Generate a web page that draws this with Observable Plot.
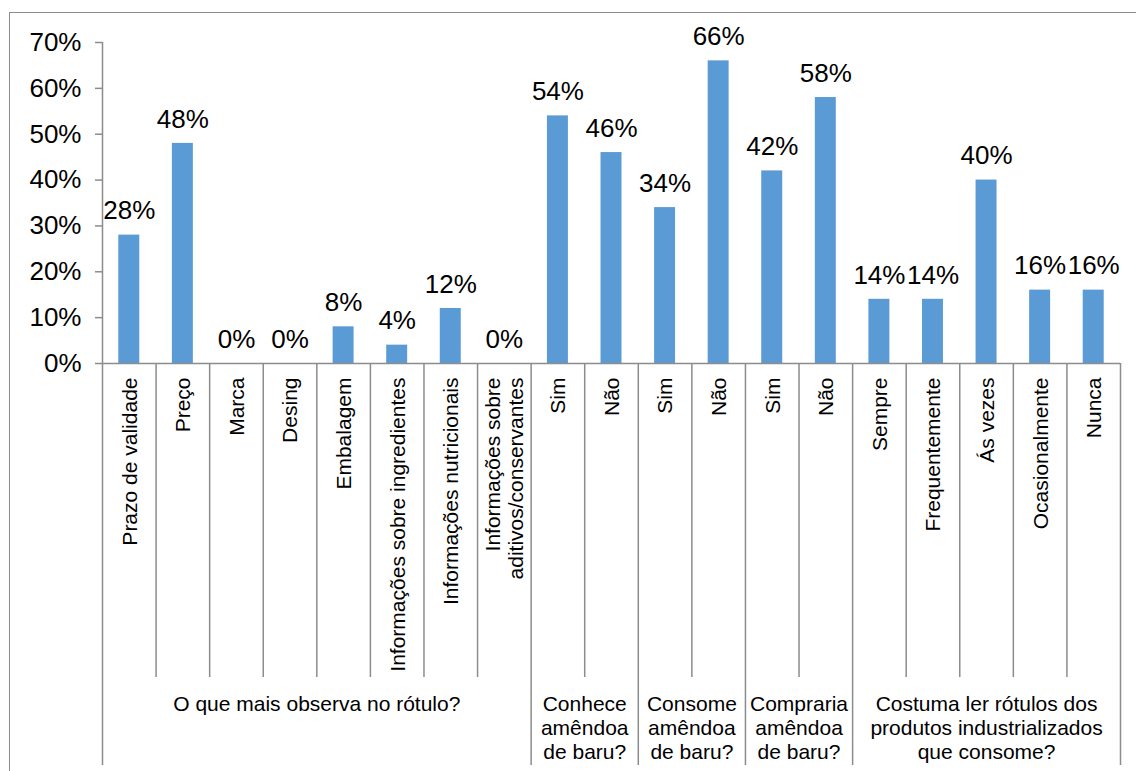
<!DOCTYPE html>
<html><head><meta charset="utf-8">
<script src="https://cdn.jsdelivr.net/npm/d3@7"></script>
<script src="https://cdn.jsdelivr.net/npm/@observablehq/plot@0.6"></script>
<style>
body{margin:0;background:#fff;font-family:"Liberation Sans",Arial,sans-serif;}
#wrap{position:relative;width:1136px;height:771px;overflow:hidden;background:#fff;}
#border{position:absolute;left:9px;top:12px;width:1200px;height:800px;border-left:1.5px solid #8c8c8c;border-top:1.5px solid #8c8c8c;pointer-events:none;z-index:2}
</style></head><body><div id="wrap"></div>
<script>
const categories = ["Prazo de validade","Preço","Marca","Desing","Embalagem","Informações sobre ingredientes","Informações nutricionais","Informações sobre\naditivos/conservantes","Sim","Não","Sim","Não","Sim","Não","Sempre","Frequentemente","Ás vezes","Ocasionalmente","Nunca"];
const values = [28,48,0,0,8,4,12,0,54,46,34,66,42,58,14,14,40,16,16];
const groups = ["O que mais observa no rótulo?","Conhece\namêndoa\nde baru?","Consome\namêndoa\nde baru?","Compraria\namêndoa\nde baru?","Costuma ler rótulos dos\nprodutos industrializados\nque consome?"];
const groupSizes = [8,2,2,2,5];
const yTicks = [0,10,20,30,40,50,60,70];

const rows = categories.map((c, i) => ({i, c, v: values[i]}));
const groupStarts = [];
let acc = 0;
for (const s of groupSizes) { groupStarts.push(acc); acc += s; }
const groupRows = groups.map((g, k) => ({g, start: groupStarts[k], end: groupStarts[k] + groupSizes[k]}));
const groupBounds = [0, ...groupRows.map(d => d.end)];
const innerBounds = d3.range(1, categories.length).filter(b => !groupBounds.includes(b));

const gray = "#8c8c8c";
const blue = "#5B9BD5";
const font = "'Liberation Sans', Arial, sans-serif";

const chart = Plot.plot({
  width: 1136,
  height: 771,
  marginLeft: 102,
  marginRight: 16,
  marginTop: 42,
  marginBottom: 408,
  style: {fontFamily: font, color: "#000", background: "transparent", overflow: "visible"},
  x: {domain: [0, categories.length], axis: null},
  y: {domain: [0, 70], axis: null},
  marks: [
    Plot.rect(rows, {x1: "i", x2: d => d.i + 1, y1: 0, y2: "v", fill: blue, insetLeft: 16.3, insetRight: 16.3}),
    Plot.text(rows, {x: d => d.i + 0.5, y: "v", text: d => d.v + "%", dy: -24, fontSize: 26, fill: "#000"}),
    Plot.axisY({ticks: yTicks, tickFormat: d => d + "%", label: null, tickSize: 7, tickPadding: 14, fontSize: 26, stroke: gray, fill: "#000", strokeWidth: 1.5}),
    Plot.ruleX([0], {stroke: gray, strokeWidth: 1.5}),
    Plot.ruleY([0], {stroke: gray, strokeWidth: 1.5}),
    Plot.ruleX(innerBounds, {x: d => d, y1: 0, y2: 0, insetBottom: -314, stroke: gray, strokeWidth: 1.5}),
    Plot.ruleX(groupBounds, {x: d => d, y1: 0, y2: 0, insetBottom: -402, stroke: gray, strokeWidth: 1.5}),
    Plot.text(rows, {x: d => d.i + 0.5, frameAnchor: "bottom", text: "c", rotate: -90, textAnchor: "end", lineAnchor: "middle", dy: 14, fontSize: 21, lineHeight: 1.1, fill: "#000"}),
    Plot.text(groupRows, {x: d => (d.start + d.end) / 2, frameAnchor: "bottom", text: "g", lineAnchor: "top", dy: 330, fontSize: 21, lineHeight: 1.15, fill: "#000"})
  ]
});
const wrap = document.getElementById("wrap");
wrap.appendChild(chart);
const b = document.createElement("div");
b.id = "border";
wrap.appendChild(b);
</script>
</body></html>
